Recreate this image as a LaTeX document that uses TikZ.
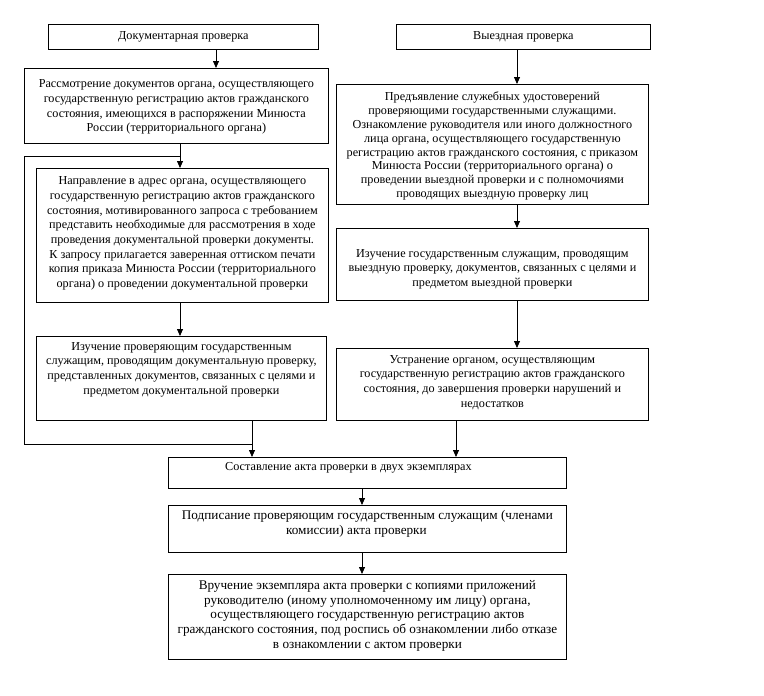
\documentclass[tikz,border=0pt]{standalone}
\usepackage{fontspec}
\setmainfont{Liberation Serif}
\usetikzlibrary{arrows.meta}
\begin{document}
\begin{tikzpicture}[x=1pt,y=-1pt,
  box/.style={draw,line width=0.8pt,rectangle,inner sep=0pt,anchor=north west},
  txt/.style={align=center,inner sep=0pt,font=\fontsize{12.2}{14.7}\selectfont},
  tighttxt/.style={txt,font=\fontsize{12.2}{13.8}\selectfont},
  bigtxt/.style={txt,font=\fontsize{13.2}{14.8}\selectfont},
  arr/.style={line width=0.8pt,-{Triangle[width=6pt,length=7pt]}},
  ln/.style={line width=0.8pt}]
\useasboundingbox[fill=white] (0,0) rectangle (764,696);

% boxes
\node[box,minimum width=270pt,minimum height=25pt] (doc) at (48,24) {};
\node[box,minimum width=254pt,minimum height=25pt] (vyezd) at (396,24) {};
\node[box,minimum width=304pt,minimum height=75pt] (ras) at (24,68) {};
\node[box,minimum width=312pt,minimum height=120pt] (pred) at (336,84) {};
\node[box,minimum width=292pt,minimum height=134pt] (nap) at (36,168) {};
\node[box,minimum width=312pt,minimum height=72pt] (izv) at (336,228) {};
\node[box,minimum width=290pt,minimum height=84pt] (izd) at (36,336) {};
\node[box,minimum width=312pt,minimum height=72pt] (ustr) at (336,348) {};
\node[box,minimum width=398pt,minimum height=31pt] (sost) at (168,457) {};
\node[box,minimum width=398pt,minimum height=47pt] (podp) at (168,505) {};
\node[box,minimum width=398pt,minimum height=85pt] (vruch) at (168,574) {};

% texts
\node[txt] (doc-t) at (doc.center) {Документарная проверка};
\node[txt] (vyezd-t) at (vyezd.center) {Выездная проверка};
\node[txt,anchor=north,yshift=-11.5pt] (ras-t) at (ras.north) {Рассмотрение документов органа, осуществляющего\\
государственную регистрацию актов гражданского\\
состояния, имеющихся в распоряжении Минюста\\
России (территориального органа)};
\node[tighttxt,anchor=north,yshift=-8pt] (pred-t) at (pred.north) {Предъявление служебных удостоверений\\
проверяющими государственными служащими.\\
Ознакомление руководителя или иного должностного\\
лица органа, осуществляющего государственную\\
регистрацию актов гражданского состояния, с приказом\\
Минюста России (территориального органа) о\\
проведении выездной проверки и с полномочиями\\
проводящих выездную проверку лиц};
\node[txt,anchor=north,yshift=-8.5pt] (nap-t) at (nap.north) {Направление в адрес органа, осуществляющего\\
государственную регистрацию актов гражданского\\
состояния, мотивированного запроса с требованием\\
представить необходимые для рассмотрения в ходе\\
проведения документальной проверки документы.\\
К запросу прилагается заверенная оттиском печати\\
копия приказа Минюста России (территориального\\
органа) о проведении документальной проверки};
\node[txt,anchor=north,yshift=-6pt] (izd-t) at (izd.north) {Изучение проверяющим государственным\\
служащим, проводящим документальную проверку,\\
представленных документов, связанных с целями и\\
предметом документальной проверки};
\node[txt,anchor=north,yshift=-21pt] (izv-t) at (izv.north) {Изучение государственным служащим, проводящим\\
выездную проверку, документов, связанных с целями и\\
предметом выездной проверки};
\node[txt,anchor=north,yshift=-7pt] (ustr-t) at (ustr.north) {Устранение органом, осуществляющим\\
государственную регистрацию актов гражданского\\
состояния, до завершения проверки нарушений и\\
недостатков};
\node[txt,anchor=north,yshift=-5.5pt,xshift=-19pt] (sost-t) at (sost.north) {Составление акта проверки в двух экземплярах};
\node[bigtxt,anchor=north,yshift=-5pt] (podp-t) at (podp.north) {Подписание проверяющим государственным служащим (членами\\
комиссии) акта проверки\hspace*{22pt}};
\node[bigtxt,anchor=north,yshift=-6pt] (vruch-t) at (vruch.north) {Вручение экземпляра акта проверки с копиями приложений\\
руководителю (иному уполномоченному им лицу) органа,\\
осуществляющего государственную регистрацию актов\\
гражданского состояния, под роспись об ознакомлении либо отказе\\
в ознакомлении с актом проверки};

% connectors
\draw[arr] (216,0 |- doc.south) -- (216,0 |- ras.north);
\draw[arr] (517,0 |- vyezd.south) -- (517,0 |- pred.north);
\draw[arr] (517,0 |- pred.south) -- (517,0 |- izv.north);
\draw[arr] (517,0 |- izv.south) -- (517,0 |- ustr.north);
\draw[arr] (180,0 |- ras.south) -- (180,0 |- nap.north);
\draw[arr] (180,0 |- nap.south) -- (180,0 |- izd.north);
\draw[arr] (252,0 |- izd.south) -- (252,0 |- sost.north);
\draw[arr] (456,0 |- ustr.south) -- (456,0 |- sost.north);
\draw[arr] (362,0 |- sost.south) -- (362,0 |- podp.north);
\draw[arr] (362,0 |- podp.south) -- (362,0 |- vruch.north);
\coordinate (fbA) at (180,156);
\coordinate (fbB) at (24,156);
\coordinate (fbC) at (24,444);
\coordinate (fbD) at (252,444);
\draw[ln] (fbA) -- (fbB) -- (fbC) -- (fbD);
\end{tikzpicture}
\end{document}
